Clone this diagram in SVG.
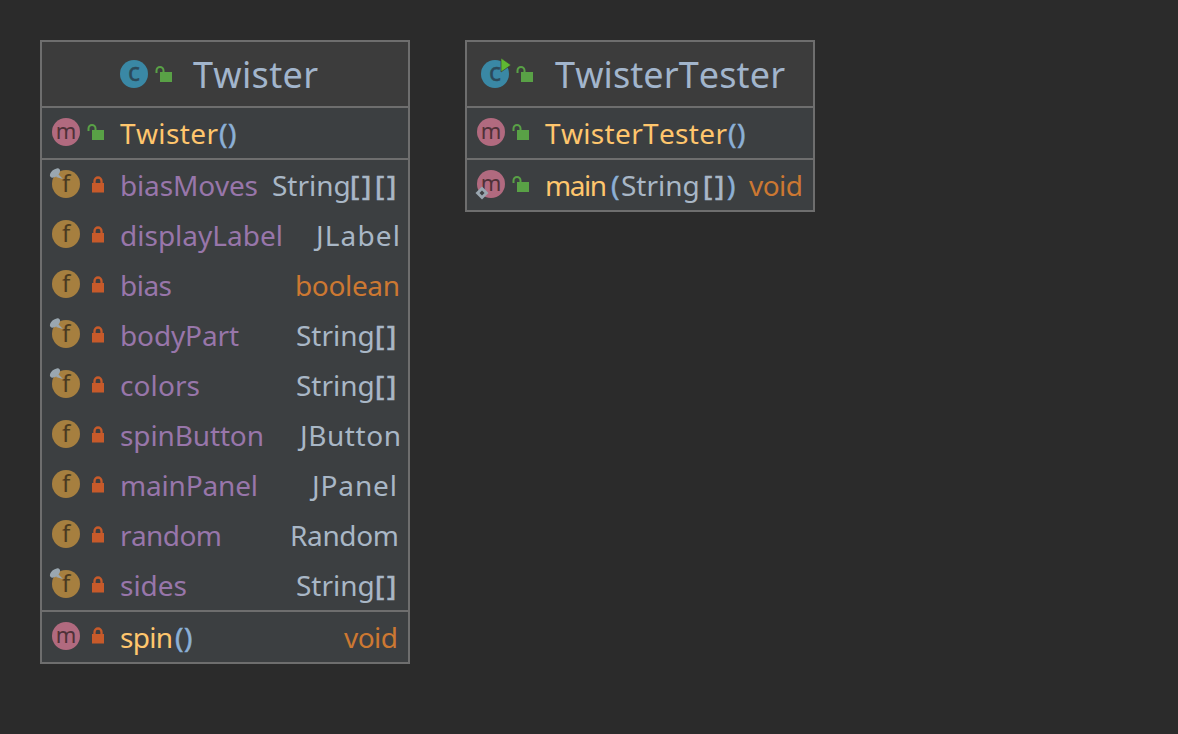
<svg xmlns="http://www.w3.org/2000/svg" xmlns:xlink="http://www.w3.org/1999/xlink" width="1178" height="734" viewBox="0 0 1178 734">
<style>
text{font-family:"Noto Sans",sans-serif;font-size:28px;font-kerning:none}
.title{font-size:36px;fill:#a2b5cc}
.m{fill:#ffc66d}.f{fill:#9876aa}.t{fill:#a9b7c6}.k{fill:#cc7832}.p{fill:#8cb0d6;stroke:#8cb0d6;stroke-width:.5}.q{fill:#a9b7c6;stroke:#a9b7c6;stroke-width:.7}
.b{fill:#3c3f41}.h{fill:#3c3c3c}.o{fill:none;stroke:#6e6e6e;stroke-width:2}.s{stroke:#6e6e6e;stroke-width:2}
.il{font-size:23px;text-anchor:middle}
</style>
<defs>
<g id="lockG"><path d="M-8.500 -5V-7.500A3.500 3.500 0 0 1 -1.500 -7.500V-5" fill="none" stroke="#59a146" stroke-width="2"/><rect x="-5" y="-6" width="12" height="10" fill="#59a146"/></g>
<g id="lockR"><path d="M-3.500 -1V-3A3.500 3.500 0 0 1 3.500 -3V-1" fill="none" stroke="#c75a2a" stroke-width="2.300"/><rect x="-6" y="-1" width="12" height="9.500" fill="#c75a2a"/></g>
<g id="iconM"><circle r="14" fill="#b16a7f"/><text class="il" y="7" fill="#4f3138" style="font-size:22px">m</text></g>
<g id="iconF"><circle r="14" fill="#a67f3f"/><text class="il" y="8" fill="#4b3a20" style="font-size:24px">f</text></g>
<g id="pin"><ellipse rx="6" ry="3.500" transform="rotate(-40)" fill="#9aa7b0"/><path d="M3 1l5 5-7-2z" fill="#9aa7b0"/></g>
<g id="diamond"><path d="M0 -6.500L6.500 0 0 6.500-6.500 0z" fill="#9aa7b0"/><path d="M0 -2.500L2.500 0 0 2.500-2.500 0z" fill="#3c3f41"/></g>
</defs>
<rect width="1178" height="734" fill="#2b2b2b"/>
<g id="connectors"/>
<g id="Twister">
<rect class="b" x="41" y="41" width="368" height="622"/>
<rect class="h" x="41" y="41" width="368" height="66"/>
<rect class="o" x="41" y="41" width="368" height="622"/>
<path class="s" d="M41 107H409M41 159H409M41 611H409"/>
<circle cx="134" cy="74" r="14" fill="#3a88a5"/>
<text class="il" x="134" y="81" fill="#2c4a5a" style="font-size:25px;stroke:#2c4a5a;stroke-width:.4">c</text>
<use xlink:href="#lockG" x="165" y="78"/>
<text class="title" x="193" y="88" textLength="125">Twister</text>
<use xlink:href="#iconM" x="66" y="132"/><use xlink:href="#lockG" x="97" y="136"/>
<text x="120" y="144"><tspan class="m" textLength="98">Twister</tspan><tspan class="p" x="219 228">()</tspan></text>
<use xlink:href="#iconF" x="66" y="184"/><use xlink:href="#pin" x="55" y="173"/><use xlink:href="#lockR" x="98" y="184"/>
<text class="f" x="120" y="196" textLength="138">biasMoves</text><text class="t" x="272" y="196">String<tspan class="q" x="350 362">[]</tspan><tspan class="q" x="375 387">[]</tspan></text>
<use xlink:href="#iconF" x="66" y="234"/><use xlink:href="#lockR" x="98" y="234"/>
<text class="f" x="120" y="246" textLength="163">displayLabel</text><text class="t" x="316" y="246" textLength="84">JLabel</text>
<use xlink:href="#iconF" x="66" y="284"/><use xlink:href="#lockR" x="98" y="284"/>
<text class="f" x="120" y="296" textLength="52">bias</text><text class="k" x="295" y="296" textLength="105">boolean</text>
<use xlink:href="#iconF" x="66" y="334"/><use xlink:href="#pin" x="55" y="323"/><use xlink:href="#lockR" x="98" y="334"/>
<text class="f" x="120" y="346" textLength="119">bodyPart</text><text class="t" x="296" y="346">String<tspan class="q" x="375 387">[]</tspan></text>
<use xlink:href="#iconF" x="66" y="384"/><use xlink:href="#pin" x="55" y="373"/><use xlink:href="#lockR" x="98" y="384"/>
<text class="f" x="120" y="396" textLength="80">colors</text><text class="t" x="296" y="396">String<tspan class="q" x="375 387">[]</tspan></text>
<use xlink:href="#iconF" x="66" y="434"/><use xlink:href="#lockR" x="98" y="434"/>
<text class="f" x="120" y="446" textLength="144">spinButton</text><text class="t" x="300" y="446" textLength="101">JButton</text>
<use xlink:href="#iconF" x="66" y="484"/><use xlink:href="#lockR" x="98" y="484"/>
<text class="f" x="120" y="496" textLength="138">mainPanel</text><text class="t" x="312" y="496" textLength="85">JPanel</text>
<use xlink:href="#iconF" x="66" y="534"/><use xlink:href="#lockR" x="98" y="534"/>
<text class="f" x="120" y="546" textLength="102">random</text><text class="t" x="290" y="546" textLength="109">Random</text>
<use xlink:href="#iconF" x="66" y="584"/><use xlink:href="#pin" x="55" y="573"/><use xlink:href="#lockR" x="98" y="584"/>
<text class="f" x="120" y="596" textLength="67">sides</text><text class="t" x="296" y="596">String<tspan class="q" x="375 387">[]</tspan></text>
<use xlink:href="#iconM" x="66" y="636"/><use xlink:href="#lockR" x="98" y="635"/>
<text x="120" y="648"><tspan class="m" textLength="53">spin</tspan><tspan class="p" x="175 184">()</tspan></text>
<text class="k" x="344" y="648" textLength="54">void</text>
</g>
<g id="TwisterTester">
<rect class="b" x="466" y="41" width="348" height="170"/>
<rect class="h" x="466" y="41" width="348" height="66"/>
<rect class="o" x="466" y="41" width="348" height="170"/>
<path class="s" d="M466 107H814M466 159H814"/>
<circle cx="495" cy="74" r="14" fill="#3a88a5"/>
<text class="il" x="495" y="81" fill="#2c4a5a" style="font-size:25px;stroke:#2c4a5a;stroke-width:.4">c</text>
<path d="M501 58L511 65 501 72z" fill="#5fb832" stroke="#3c3c3c" stroke-width=".7"/>
<use xlink:href="#lockG" x="526" y="78"/>
<text class="title" x="555" y="88" textLength="230">TwisterTester</text>
<use xlink:href="#iconM" x="491" y="132"/><use xlink:href="#lockG" x="522" y="136"/>
<text x="545" y="144"><tspan class="m" textLength="182">TwisterTester</tspan><tspan class="p" x="728 737">()</tspan></text>
<use xlink:href="#iconM" x="491" y="184"/><use xlink:href="#diamond" x="482" y="193"/><use xlink:href="#lockG" x="522" y="188"/>
<text x="545" y="196"><tspan class="m" textLength="62">main</tspan><tspan class="p" x="611">(</tspan><tspan class="t" x="621">String</tspan><tspan class="q" x="703 715">[]</tspan><tspan class="p" x="727">)</tspan></text>
<text class="k" x="749" y="196" textLength="54">void</text>
</g>
</svg>
